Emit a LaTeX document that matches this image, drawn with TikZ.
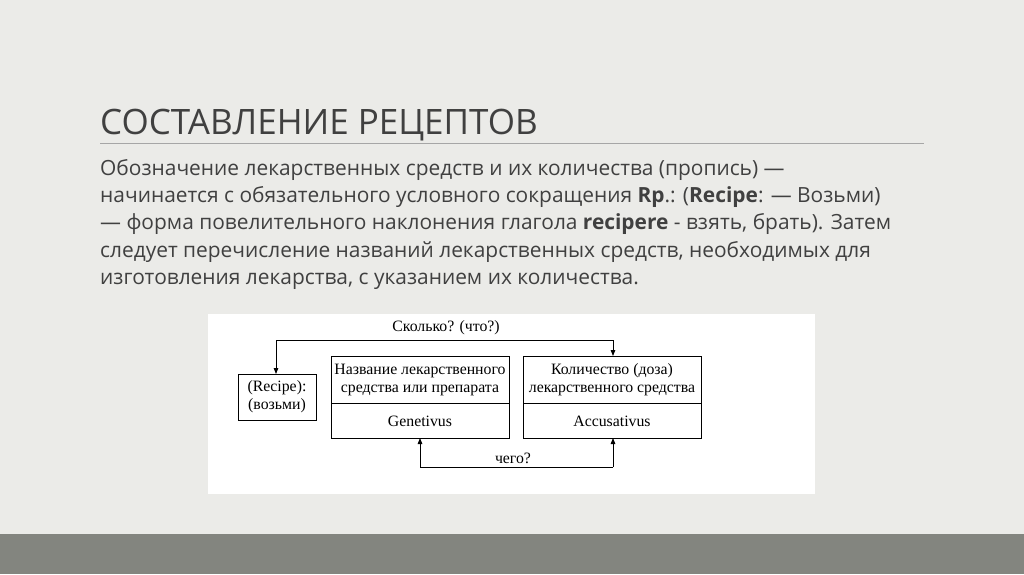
\documentclass[tikz,border=0pt]{standalone}
\usepackage{fontspec}
\setmainfont{Open Sans}
\newfontfamily\dfont{Liberation Serif}
\usetikzlibrary{arrows.meta}
\definecolor{bg}{HTML}{EBEBE8}
\definecolor{band}{HTML}{83857F}
\definecolor{txt}{HTML}{404040}
\tikzset{
  body/.style={anchor=base west,inner sep=0,text=txt,font=\fontsize{20.9pt}{23pt}\selectfont},
  dbox/.style={draw,line width=0.9pt,inner sep=0},
  dtxt/.style={font=\dfont\fontsize{15.8pt}{18pt}\selectfont,align=center,inner sep=0},
  arr/.style={line width=0.8pt,-{Triangle[length=6pt,width=4.5pt]}}
}
\begin{document}
\begin{tikzpicture}[x=1pt,y=-1pt]
\fill[bg] (0,0) rectangle (1024,574);
\useasboundingbox (0,0) rectangle (1024,574);
\fill[band] (0,534) rectangle (1024,574);
\node[anchor=base west,inner sep=0,text=txt,font=\fontsize{35pt}{38pt}\selectfont] (title) at (100,134) {СОСТАВЛЕНИЕ РЕЦЕПТОВ};
\draw[gray!70,line width=0.7pt] (100,143) -- (924,143);
\node[body] (l1) at (100,175) {Обозначение лекарственных средств и их количества (пропись) —};
\node[body] (l2) at (100,202) {начинается с обязательного условного сокращения \textbf{Rp}.: (\textbf{Recipe}: — Возьми)};
\node[body] (l3) at (100,229) {— форма повелительного наклонения глагола \textbf{recipere} - взять, брать). Затем};
\node[body] (l4) at (100,257) {следует перечисление названий лекарственных средств, необходимых для};
\node[body] (l5) at (100,284) {изготовления лекарства, с указанием их количества.};
\fill[white] (208,314) rectangle (815,494);
\node[dbox,minimum width=78pt,minimum height=46pt] (rec) at (277,397) {};
\node[dtxt] at (rec) {(Recipe):\\(возьми)};
\node[dbox,minimum width=178pt,minimum height=82pt] (mid) at (420,397) {};
\draw[line width=0.9pt] (331,403) -- (509,403);
\node[dtxt] (midt) at (420,380) {Название лекарственного\\средства или препарата};
\node[dtxt] (midb) at (420,421) {Genetivus};
\node[dbox,minimum width=178pt,minimum height=82pt] (rgt) at (612,397) {};
\draw[line width=0.9pt] (523,403) -- (701,403);
\node[dtxt] (rgtt) at (612,380) {Количество (доза)\\лекарственного средства};
\node[dtxt] (rgtb) at (612,421) {Accusativus};
\coordinate (a1) at (276,340);
\coordinate (a2) at (613,340);
\draw[arr] (a1) -- (276,374);
\draw[arr] (a2) -- (613,356);
\draw[line width=0.8pt] (a1) -- (a2);
\node[dtxt] (q1) at (446,328) {Сколько? (что?)};
\coordinate (b1) at (420,467);
\coordinate (b2) at (613,467);
\draw[line width=0.8pt] (b1) -- (b2);
\draw[arr] (b1) -- (420,438);
\draw[arr] (b2) -- (613,438);
\node[dtxt] (q2) at (513,458) {чего?};
\end{tikzpicture}
\end{document}
